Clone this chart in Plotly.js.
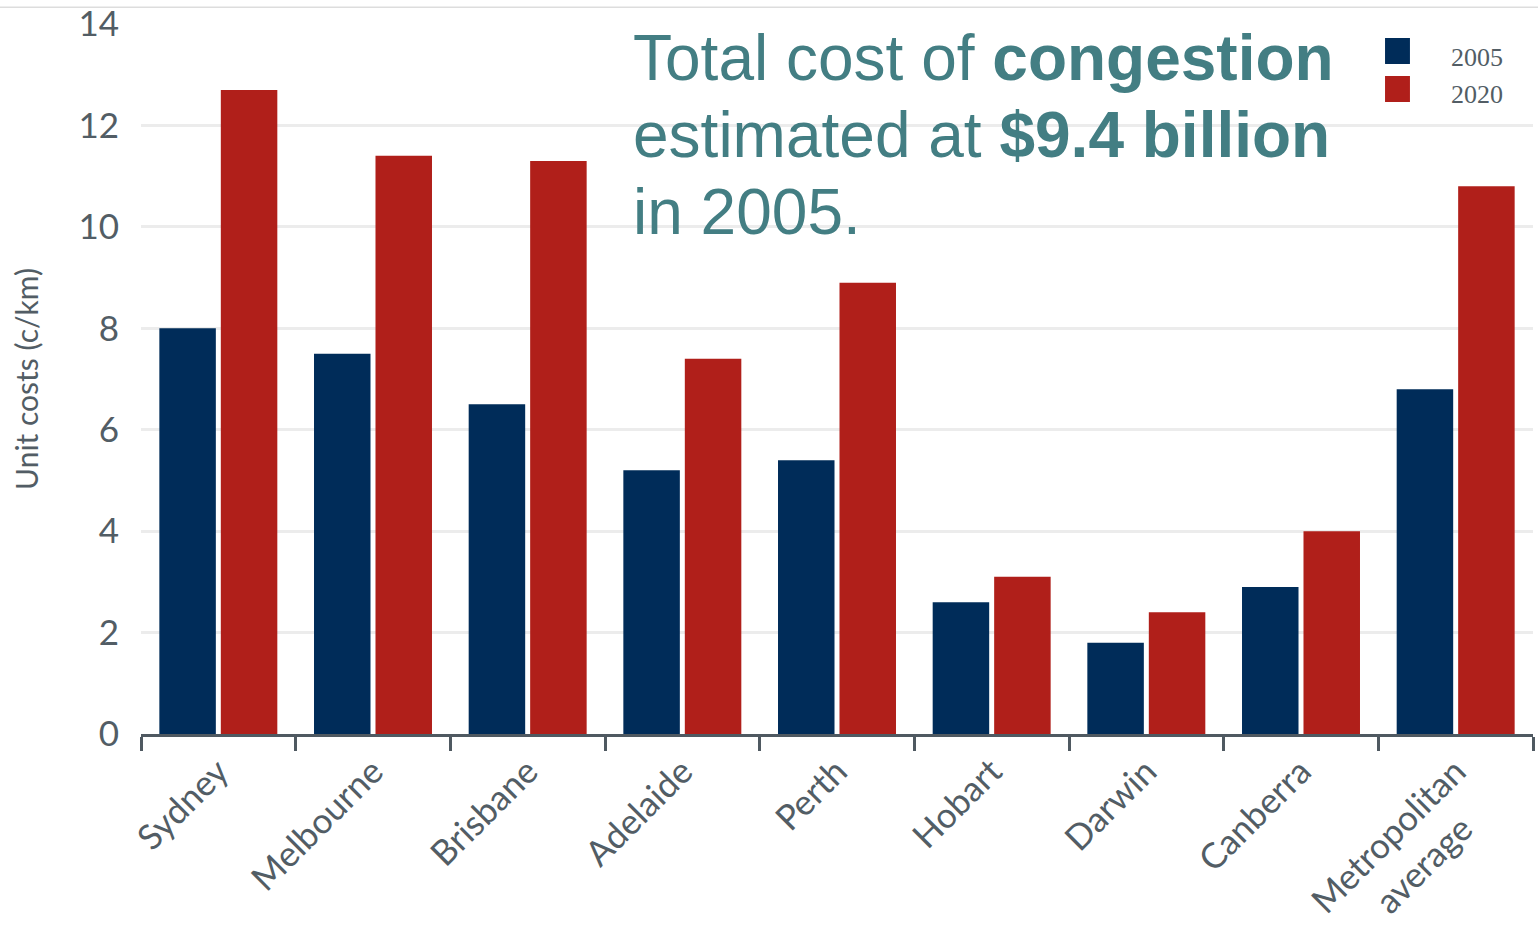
<!DOCTYPE html>
<html>
<head>
<meta charset="utf-8">
<script src="https://cdn.plot.ly/plotly-3.0.1.min.js"></script>
<style>html,body{margin:0;padding:0;background:#fff;}#chart{width:1538px;height:933px;}</style>
</head>
<body>
<div id="chart"></div>
<script>
const cities = ["Sydney", "Melbourne", "Brisbane", "Adelaide", "Perth", "Hobart", "Darwin", "Canberra", "Metropolitan<br>average\u00a0\u00a0\u00a0\u00a0"];
const cost2005 = [8.0, 7.5, 6.5, 5.2, 5.4, 2.6, 1.8, 2.9, 6.8];
const cost2020 = [12.7, 11.4, 11.3, 7.4, 8.9, 3.1, 2.4, 4.0, 10.8];
const seriesNames = ["2005", "2020"];
const seriesColors = ["#002c59", "#b01f1a"];
const yTicks = [0, 2, 4, 6, 8, 10, 12, 14];

const axisGray = "#4f5961";
const textGray = "#525d65";
const teal = "#437e83";

const traces = [
  {type: "bar", name: seriesNames[0], x: cities, y: cost2005, marker: {color: seriesColors[0]}, showlegend: false},
  {type: "bar", name: seriesNames[1], x: cities, y: cost2020, marker: {color: seriesColors[1]}, showlegend: false}
];

const layout = {
  width: 1538, height: 933,
  margin: {l: 141, r: 5, t: 24, b: 199},
  paper_bgcolor: "#ffffff", plot_bgcolor: "#ffffff",
  barmode: "group", bargap: 0.205, bargroupgap: 0.081,
  xaxis: {
    type: "category",
    showline: true, linewidth: 3, linecolor: axisGray,
    ticks: "outside", tickson: "boundaries", ticklen: 14, tickwidth: 3, tickcolor: axisGray,
    tickangle: -45,
    tickfont: {family: "Lato, 'Open Sans', sans-serif", size: 35, color: textGray},
    showgrid: false
  },
  yaxis: {
    range: [0, 14], tickvals: yTicks, ticktext: yTicks.map(String),
    showgrid: true, gridcolor: "#ececec", gridwidth: 3, zeroline: false,
    showline: false, ticks: "outside", ticklen: 14, tickcolor: "rgba(0,0,0,0)",
    tickfont: {family: "Lato, 'Open Sans', sans-serif", size: 35, color: textGray},
    title: {text: "Unit costs (c/km)", font: {family: "Lato, 'Open Sans', sans-serif", size: 30, color: textGray}, standoff: 30}
  },
  shapes: [
    {type: "line", xref: "paper", yref: "paper", x0: -0.11, x1: 1.01, y0: 1.0237, y1: 1.0237, line: {color: "#dddddd", width: 1.5}},
    {type: "rect", xref: "paper", yref: "paper", x0: 0.8937, x1: 0.9116, y0: 0.9437, y1: 0.9803, fillcolor: seriesColors[0], line: {width: 0}},
    {type: "rect", xref: "paper", yref: "paper", x0: 0.8937, x1: 0.9116, y0: 0.8901, y1: 0.9268, fillcolor: seriesColors[1], line: {width: 0}}
  ],
  annotations: [
    {xref: "paper", yref: "paper", x: 0.9397, y: 0.9535, xanchor: "left", yanchor: "middle", showarrow: false, text: seriesNames[0], font: {family: "'Liberation Serif', serif", size: 26, color: textGray}},
    {xref: "paper", yref: "paper", x: 0.9397, y: 0.9014, xanchor: "left", yanchor: "middle", showarrow: false, text: seriesNames[1], font: {family: "'Liberation Serif', serif", size: 26, color: textGray}},
    {xref: "paper", yref: "paper", x: 0.3520, y: 0.9521, xanchor: "left", yanchor: "middle", showarrow: false, text: "Total cost of <b>congestion</b>", font: {family: "'Liberation Sans', Arial, sans-serif", size: 64, color: teal}},
    {xref: "paper", yref: "paper", x: 0.3520, y: 0.8437, xanchor: "left", yanchor: "middle", showarrow: false, text: "estimated at <b>$9.4 billion</b>", font: {family: "'Liberation Sans', Arial, sans-serif", size: 64, color: teal}},
    {xref: "paper", yref: "paper", x: 0.3520, y: 0.7352, xanchor: "left", yanchor: "middle", showarrow: false, text: "in 2005.", font: {family: "'Liberation Sans', Arial, sans-serif", size: 64, color: teal}}
  ]
};

Plotly.newPlot("chart", traces, layout, {displayModeBar: false, staticPlot: true});
</script>
</body>
</html>
